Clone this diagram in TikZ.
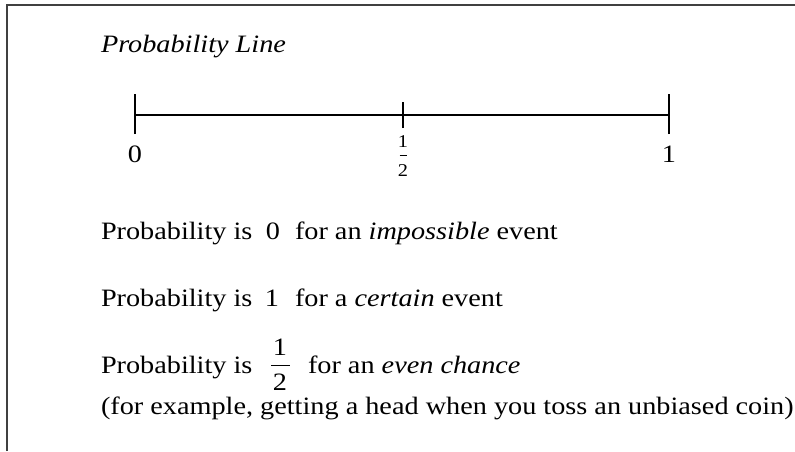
\documentclass[tikz,border=0pt]{standalone}
\usepackage{fontspec}
\setmainfont[FakeStretch=1.13]{Liberation Serif}
\newfontfamily\smallnum[FakeStretch=1.13]{Liberation Serif}
\begin{document}
\begin{tikzpicture}[x=1pt,y=-1pt,
  txt/.style={inner sep=0pt,outer sep=0pt,anchor=base west,font=\fontsize{25}{30}\selectfont},
  num/.style={inner sep=0pt,outer sep=0pt,anchor=base,text depth=0pt,font=\fontsize{25}{30}\selectfont},
  axnum/.style={inner sep=0pt,outer sep=0pt,anchor=base,text depth=0pt,font=\smallnum\fontsize{18}{20}\selectfont},
  axis/.style={line width=1.2pt,black},
  frame/.style={line width=1.6pt,black!75}]
\useasboundingbox (0,0) rectangle (795,451);
% open frame: left and top edges
\draw[frame] (7,451) -- (7,5) -- (795,5);

% title
\node[txt] (title) at (101,52) {\textit{Probability Line}};

% the probability line with its ticks
\coordinate (p0) at (135,115);
\coordinate (phalf) at (403,115);
\coordinate (p1) at (669,115);
\draw[axis] (p0) -- (p1);
\draw[axis] ([yshift=-19pt]p0) -- ([yshift=21pt]p0);
\draw[axis] ([yshift=-13pt]phalf) -- ([yshift=13pt]phalf);
\draw[axis] ([yshift=-19pt]p1) -- ([yshift=21pt]p1);

\node[num] (l0) at (135,162) {0};
\node[num] (l1) at (669,162) {1};
\node[axnum] (lhn) at (403,147) {1};
\node[axnum] (lhd) at (403,176) {2};
\draw[line width=0.9pt] (399.5,155) -- (406.5,155);

% statements
\node[txt] (a1) at (101,239) {Probability is};
\node[num] (a2) at (273,239) {0};
\node[txt] (a3) at (295,239) {for an \textit{impossible} event};

\node[txt] (b1) at (101,306) {Probability is};
\node[num] (b2) at (272,306) {1};
\node[txt] (b3) at (295,306) {for a \textit{certain} event};

\node[txt] (c1) at (101,373) {Probability is};
\node[num] (cn) at (280,355) {1};
\node[num] (cd) at (280,390) {2};
\draw[line width=1pt] (271,365) -- (290,365);
\node[txt] (c3) at (308,373) {for an \textit{even chance}};

\node[txt] (d1) at (101,414) {(for example, getting a head when you toss an unbiased coin)};
\end{tikzpicture}
\end{document}
